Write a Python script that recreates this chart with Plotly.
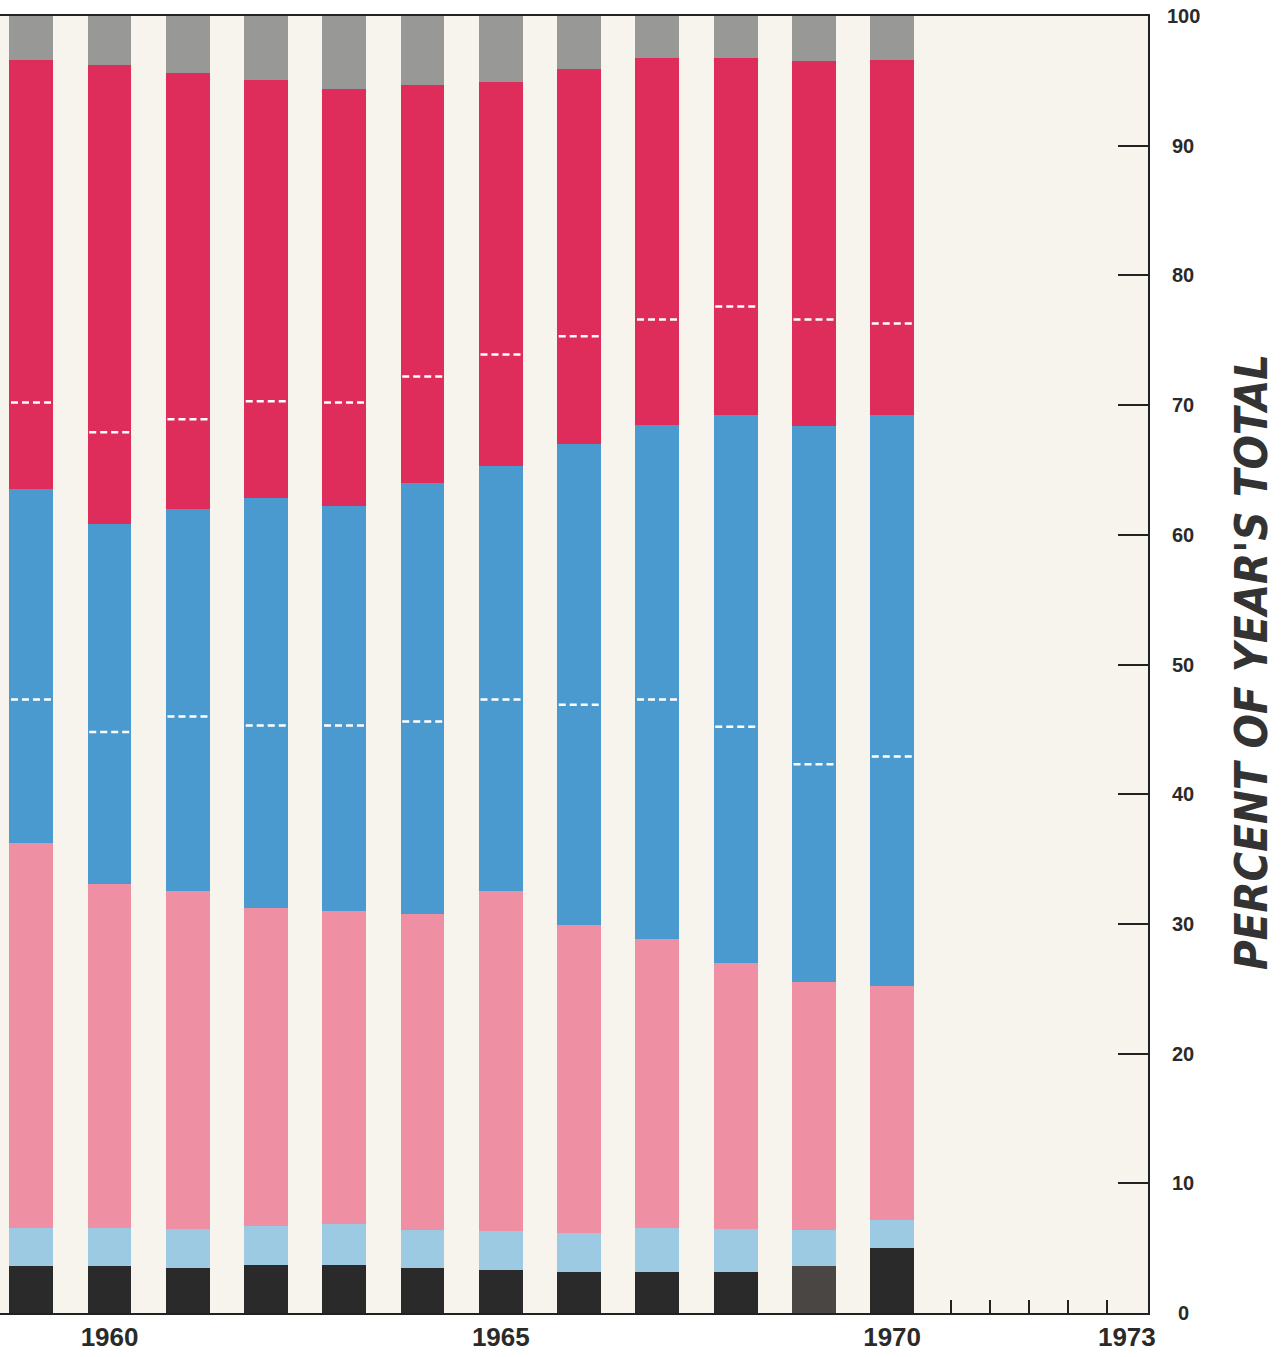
import plotly.graph_objects as go

years = [1959, 1960, 1961, 1962, 1963, 1964, 1965, 1966, 1967, 1968, 1969, 1970]

# segment shares (percent of year's total), bottom to top
black_seg = [3.6, 3.6, 3.5, 3.7, 3.7, 3.5, 3.3, 3.2, 3.2, 3.2, 3.6, 5.0]
lightblue_seg = [2.95, 2.95, 3.0, 3.0, 3.2, 2.9, 3.0, 3.0, 3.35, 3.3, 2.8, 2.2]
pink_seg = [29.65, 26.55, 26.0, 24.5, 24.1, 24.4, 26.2, 23.7, 22.25, 20.5, 19.1, 18.0]
blue_seg = [27.3, 27.7, 29.5, 31.6, 31.2, 33.2, 32.8, 37.1, 39.7, 42.2, 42.9, 44.0]
red_seg = [33.1, 35.4, 33.6, 32.3, 32.2, 30.7, 29.6, 28.9, 28.3, 27.6, 28.1, 27.4]
gray_seg = [3.4, 3.8, 4.4, 4.9, 5.6, 5.3, 5.1, 4.1, 3.2, 3.2, 3.5, 3.4]

# dashed white marker levels (cumulative percent)
blue_mark = [47.3, 44.8, 46.0, 45.3, 45.3, 45.6, 47.3, 46.9, 47.3, 45.2, 42.3, 42.9]
red_mark = [70.2, 67.9, 68.9, 70.3, 70.2, 72.2, 73.9, 75.3, 76.6, 77.6, 76.6, 76.3]

x_tick_vals = [1960, 1965, 1970, 1973]
x_tick_text = ["1960", "1965", "1970", "1973"]
x_minor_ticks = [1970.75, 1971.25, 1971.75, 1972.25, 1972.75]
y_tick_vals = [0, 10, 20, 30, 40, 50, 60, 70, 80, 90, 100]
y_tick_text = ["0", "10", "20", "30", "40", "50", "60", "70", "80", "90", "100"]
y_title = "PERCENT OF YEAR'S TOTAL"

BAR_W = 0.56
black_colors = ["#2a2a2a"] * len(years)
black_colors[years.index(1969)] = "#4a4644"

fig = go.Figure()
series = [
    (black_seg, black_colors),
    (lightblue_seg, "#9dcae3"),
    (pink_seg, "#ee8fa3"),
    (blue_seg, "#4a9acf"),
    (red_seg, "#df2d5b"),
    (gray_seg, "#989897"),
]
for vals, col in series:
    fig.add_trace(go.Bar(x=years, y=vals, width=BAR_W,
                         marker=dict(color=col, line=dict(width=0)),
                         showlegend=False))

for marks in (blue_mark, red_mark):
    xs, ys = [], []
    for yr, v in zip(years, marks):
        xs += [yr - 0.26, yr + 0.26, None]
        ys += [v, v, None]
    fig.add_trace(go.Scatter(x=xs, y=ys, mode="lines",
                             line=dict(color="white", width=2.5, dash="7px,4px"),
                             showlegend=False, hoverinfo="skip"))

# empty trace so the overlay axis with minor ticks is drawn
fig.add_trace(go.Scatter(x=[], y=[], xaxis="x2", showlegend=False))

# y tick labels, centred like the original
annotations = [dict(text=t, x=1.0, xref="paper", y=v, yref="y", xshift=35,
                    xanchor="center", yanchor="middle", showarrow=False,
                    font=dict(family="Liberation Sans", size=20, color="#2a2a2a", weight="bold"))
               for v, t in zip(y_tick_vals, y_tick_text)]
annotations.append(dict(text=y_title, xref="paper", yref="paper",
                        x=1.0, xanchor="center", yanchor="middle", xshift=104, y=0.502,
                        textangle=-90, showarrow=False,
                        font=dict(family="DejaVu Sans Condensed, Roboto, sans-serif", size=45,
                                  color="#333333", weight="bold", style="italic")))

XR = [1958.60, 1973.27]
fig.update_layout(
    width=1281, height=1357,
    margin=dict(l=0, r=133, t=16, b=44, autoexpand=False),
    barmode="stack",
    paper_bgcolor="#ffffff",
    plot_bgcolor="#f7f4ee",
    xaxis=dict(range=XR, tickvals=x_tick_vals, ticktext=x_tick_text,
               ticks="", showgrid=False, zeroline=False,
               showline=True, linecolor="#222222", linewidth=2, mirror=True,
               ticklabelstandoff=0, ticklabeloverflow="allow",
               tickfont=dict(family="Liberation Sans", size=26, color="#2a2a2a", weight="bold")),
    xaxis2=dict(range=XR, overlaying="x", anchor="y", side="bottom",
                tickvals=x_minor_ticks, ticks="inside", ticklen=13, tickwidth=1.5,
                tickcolor="#222222", showticklabels=False, showgrid=False,
                zeroline=False, showline=False),
    yaxis=dict(range=[0, 100], side="right", tickvals=y_tick_vals,
               ticks="inside", ticklen=30, tickwidth=1.5, tickcolor="#222222",
               showline=True, linecolor="#222222", linewidth=2,
               showgrid=False, zeroline=False, showticklabels=False),
    annotations=annotations,
)

fig.write_html("out.html", config={"displayModeBar": False},
               post_script="document.body.style.margin='0';document.body.style.overflow='hidden';")
